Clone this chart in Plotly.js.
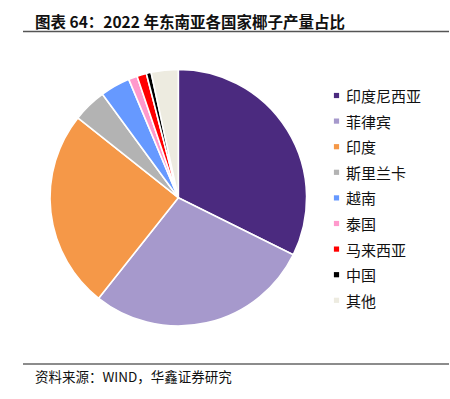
<!DOCTYPE html>
<html>
<head>
<meta charset="utf-8">
<script src="https://cdn.plot.ly/plotly-3.0.1.min.js"></script>
<style>html,body{margin:0;padding:0;background:#fff;}#chart{width:450px;height:399px;}</style>
</head>
<body>
<div id="chart"></div>
<script>
// Data (share of 2022 coconut production, %)
const labels = ['印度尼西亚', '菲律宾', '印度', '斯里兰卡', '越南', '泰国', '马来西亚', '中国', '其他'];
const values = [32.3, 28.3, 25.0, 4.25, 3.75, 1.1, 1.2, 0.6, 3.4];
const colors = ['#4B2A7F', '#A699CC', '#F59848', '#B3B3B3', '#6699FF', '#FF99CC', '#FF0000', '#000000', '#EDEBE0'];
const titleText = '图表 64：2022 年东南亚各国家椰子产量占比';
const sourceText = '资料来源：WIND，华鑫证券研究';

const W = 450, H = 399;
const cx = 178.3, cy = 197.7, r = 128.3;

const trace = {
  type: 'pie',
  labels: labels,
  values: values,
  sort: false,
  direction: 'clockwise',
  rotation: 0,
  textinfo: 'none',
  hoverinfo: 'label+percent',
  marker: { colors: colors, line: { color: '#ffffff', width: 1.6 } },
  domain: { x: [(cx - r) / W, (cx + r) / W], y: [1 - (cy + r) / H, 1 - (cy - r) / H] },
  showlegend: false
};

const font = "'Noto Sans CJK SC', 'Noto Sans', sans-serif";
const annotations = [];
const shapes = [];

// Title and source
annotations.push({
  xref: 'paper', yref: 'paper', x: 33 / W, y: 1 - 21 / H, xanchor: 'left', yanchor: 'middle',
  text: '<b>' + titleText + '</b>', showarrow: false, font: { family: font, size: 15.5, color: '#111' }
});
annotations.push({
  xref: 'paper', yref: 'paper', x: 33 / W, y: 1 - 376 / H, xanchor: 'left', yanchor: 'middle',
  text: sourceText, showarrow: false, font: { family: font, size: 13.5, color: '#111' }
});
shapes.push({ type: 'line', xref: 'paper', yref: 'paper', x0: 23 / W, x1: 449 / W, y0: 1 - 31.5 / H, y1: 1 - 31.5 / H, line: { color: '#555', width: 1.5 } });
shapes.push({ type: 'line', xref: 'paper', yref: 'paper', x0: 23 / W, x1: 449 / W, y0: 1 - 364 / H, y1: 1 - 364 / H, line: { color: '#666', width: 1.5 } });

// Custom legend
const legY0 = 95.5, legStep = 25.6, mx = 336.5, ms = 2.6, tx = 344;
labels.forEach((lab, i) => {
  const y = legY0 + i * legStep;
  shapes.push({ type: 'rect', xref: 'paper', yref: 'paper',
    x0: (mx - ms) / W, x1: (mx + ms) / W, y0: 1 - (y + ms) / H, y1: 1 - (y - ms) / H,
    fillcolor: colors[i], line: { width: 0 } });
  annotations.push({ xref: 'paper', yref: 'paper', x: tx / W, y: 1 - y / H, xanchor: 'left', yanchor: 'middle',
    text: lab, showarrow: false, font: { family: font, size: 15, color: '#111' } });
});

const layout = {
  width: W, height: H,
  margin: { l: 0, r: 0, t: 0, b: 0 },
  paper_bgcolor: '#ffffff',
  showlegend: false,
  annotations: annotations,
  shapes: shapes
};

Plotly.newPlot('chart', [trace], layout, { displayModeBar: false, staticPlot: true });
</script>
</body>
</html>
